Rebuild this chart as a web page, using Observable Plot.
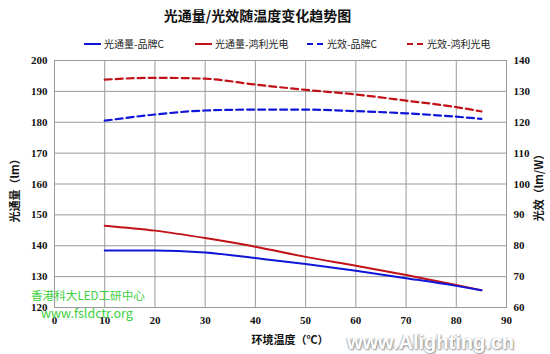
<!DOCTYPE html>
<html><head><meta charset="utf-8">
<script src="https://cdn.jsdelivr.net/npm/d3@7"></script>
<script src="https://cdn.jsdelivr.net/npm/@observablehq/plot@0.6"></script>
<style>
body{margin:0;background:#fff;}
#wrap{position:relative;width:550px;height:354px;overflow:hidden;font-family:"Noto Sans CJK SC",sans-serif;}
.abs{position:absolute;white-space:nowrap;}
#title{left:0;width:515px;top:5px;text-align:center;font-size:14px;font-weight:bold;color:#111;}
.leg{top:36px;font-size:10px;color:#222;display:flex;align-items:center;}
.leg svg{margin-right:3px;}
.ytitle{font-size:11px;font-weight:bold;color:#111;transform:translate(-50%,-50%) rotate(-90deg);}
#xtitle{font-size:11px;font-weight:bold;color:#111;transform:translate(-50%,-50%);left:290px;top:339px;}
.wm{color:#3ccf3c;font-size:12.5px;}
#wm1{font-size:11.6px;}
#wm3{left:347px;top:331px;font-family:"Liberation Sans",Arial,sans-serif;font-weight:bold;font-size:20px;color:#fff;text-shadow:1px 1px 2px #888,-1px 0 1px #bbb;}
</style></head>
<body>
<div id="wrap"></div>
<script>
const temps = [10, 20, 30, 40, 50, 60, 70, 80, 85];
const fluxC = [138.5, 138.5, 137.8, 136.0, 134.1, 131.9, 129.5, 127.0, 125.6];
const fluxH = [146.5, 144.9, 142.5, 139.7, 136.4, 133.5, 130.5, 127.3, 125.6];
const effC  = [120.5, 122.5, 123.8, 124.1, 124.1, 123.6, 122.9, 121.8, 121.1];
const effH  = [133.8, 134.4, 134.1, 132.2, 130.5, 129.0, 127.0, 124.9, 123.5];
const seriesNames = ["光通量-品牌C", "光通量-鸿利光电", "光效-品牌C", "光效-鸿利光电"];
const xTicks = [0, 10, 20, 30, 40, 50, 60, 70, 80, 90];
const yLeftTicks = [120, 130, 140, 150, 160, 170, 180, 190, 200];
const yRightTicks = [60, 70, 80, 90, 100, 110, 120, 130, 140];

const blue = "#1016d8", red = "#c01218";
const offset = 60; // right axis value + 60 = left axis value

const rows = (vals, s, off=0) => temps.map((t,i)=>({t, v: vals[i], y: vals[i]+off, s}));
const dFluxC = rows(fluxC, seriesNames[0]);
const dFluxH = rows(fluxH, seriesNames[1]);
const dEffC = rows(effC, seriesNames[2], offset);
const dEffH = rows(effH, seriesNames[3], offset);

const tickFont = {fontFamily:"'Liberation Serif',serif", fontWeight:"bold", fontSize:11};

const chart = Plot.plot({
  width: 550, height: 354,
  marginTop: 60, marginBottom: 47, marginLeft: 54, marginRight: 44,
  x: {domain: [0, 90]},
  y: {domain: [120, 200]},
  style: {background: "#fff", color: "#111"},
  marks: [
    Plot.gridX(xTicks, {stroke: "#9a9a9a", strokeOpacity: 1}),
    Plot.gridY(yLeftTicks, {stroke: "#9a9a9a", strokeOpacity: 1}),
    Plot.frame({stroke: "#9a9a9a"}),
    Plot.axisX(xTicks, {tickSize: 0, tickPadding: 9, label: null, ...tickFont}),
    Plot.axisY(yLeftTicks, {anchor: "left", tickSize: 0, tickPadding: 7, label: null, ...tickFont}),
    Plot.axisY(yRightTicks.map(v=>v+offset), {anchor: "right", tickSize: 0, tickPadding: 7, label: null, tickFormat: d => d - offset, ...tickFont}),
    Plot.line(dEffH, {x: "t", y: "y", stroke: red, strokeWidth: 2.2, strokeDasharray: "7,4", curve: "monotone-x"}),
    Plot.line(dEffC, {x: "t", y: "y", stroke: blue, strokeWidth: 2.2, strokeDasharray: "7,4", curve: "monotone-x"}),
    Plot.line(dFluxH, {x: "t", y: "v", stroke: red, strokeWidth: 2, curve: "monotone-x"}),
    Plot.line(dFluxC, {x: "t", y: "v", stroke: blue, strokeWidth: 2, curve: "monotone-x"})
  ]
});
const wrap = document.getElementById("wrap");
chart.style.position = "absolute"; chart.style.left = "0"; chart.style.top = "0";
wrap.appendChild(chart);

function addDiv(id, cls, text, left, top){
  const d = document.createElement("div");
  if (id) d.id = id;
  d.className = "abs " + (cls||"");
  d.textContent = text;
  if (left!=null) d.style.left = left+"px";
  if (top!=null) d.style.top = top+"px";
  wrap.appendChild(d);
  return d;
}
addDiv("title", "", "光通量/光效随温度变化趋势图");
const legendItems = [
  {name: seriesNames[0], color: blue, dash: null, x: 84},
  {name: seriesNames[1], color: red, dash: null, x: 195},
  {name: seriesNames[2], color: blue, dash: "6,4", x: 307},
  {name: seriesNames[3], color: red, dash: "6,4", x: 407}
];
for (const it of legendItems){
  const d = document.createElement("div");
  d.className = "abs leg";
  d.style.left = it.x + "px";
  d.innerHTML = `<svg width="17" height="4"><line x1="0" y1="2" x2="17" y2="2" stroke="${it.color}" stroke-width="2" ${it.dash?`stroke-dasharray="${it.dash}"`:""}/></svg><span>${it.name}</span>`;
  wrap.appendChild(d);
}
addDiv(null, "ytitle", "光通量（lm）", 14, 188);
addDiv(null, "ytitle", "光效（lm/W）", 538, 185);
addDiv("xtitle", "", "环境温度（℃）");
addDiv("wm1", "wm", "香港科大LED工研中心", 31, 287);
addDiv(null, "wm", "www.fsldctr.org", 41, 303);
addDiv("wm3", "", "www.Alighting.cn");
</script>
</body></html>
